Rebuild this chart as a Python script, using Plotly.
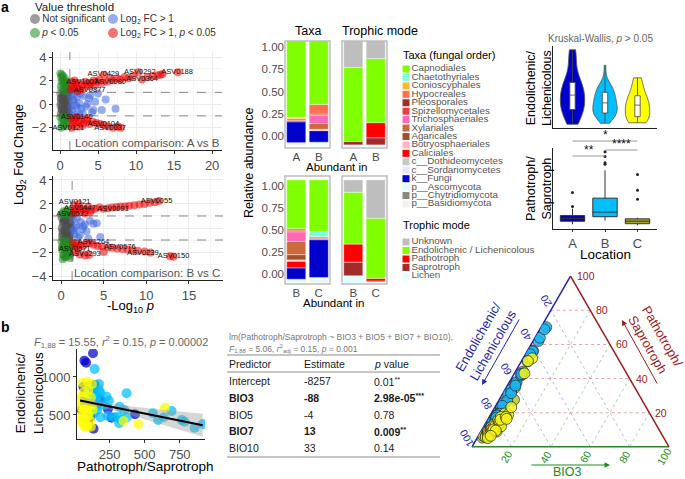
import numpy as np
import plotly.graph_objects as go

W, H = 685, 479
FONT = "Liberation Sans, Arial, Helvetica, sans-serif"
TXT = "#4D4D4D"


def fx(px):
    return px / W


def fy(py):
    return 1 - py / H


# ------------------------------------------------------------------
# (a) volcano plots
# ------------------------------------------------------------------
volcano_classes = ["Not significant", "Log<sub>2</sub> FC > 1",
                   "<i>p</i> < 0.05", "Log<sub>2</sub> FC > 1, <i>p</i> < 0.05"]
volcano_colors = ["#4D4D4D", "#4169E1", "#228B22", "#EE0000"]
p_cutoff = 0.05
fc_cutoff = 1.0

# Location A vs B
ab_ns_x = [0.05, 0.1, 0.15, 0.2, 0.3, 0.4, 0.5, 0.6, 0.7, 0.8, 0.9, 1.0, 1.1, 1.2,
           0.05, 0.15, 0.25, 0.35, 0.45, 0.55, 0.65, 0.75, 0.85, 0.95, 1.05, 1.15, 1.25,
           0.1, 0.3, 0.5, 0.7, 0.9]
ab_ns_y = [0.9, -0.8, 0.5, -0.4, 0.7, -0.9, 0.2, -0.6, 0.8, -0.2, 0.4, -0.7, 0.6, -0.3,
           -0.1, 0.1, -0.5, 0.3, -0.85, 0.65, -0.35, 0.05, -0.6, 0.85, -0.15, 0.3, -0.8,
           0.45, -0.25, 0.95, 0.0, -0.9]
ab_fc_x = [1.4, 1.6, 1.8, 2.0, 2.2, 2.5, 2.8, 3.1, 3.4, 3.8, 4.2, 4.6, 5.0, 5.5, 6.0, 7.3,
           1.5, 1.9, 2.3, 2.7, 3.0, 3.6, 4.0, 4.4, 1.7, 2.1, 2.6]
ab_fc_y = [0.8, -0.6, 0.3, -0.9, 0.6, 0.1, -0.4, 0.7, -0.2, 0.5, -0.7, 0.2, 0.9, -0.5, 0.4, -0.4,
           -0.2, 0.95, -0.3, 0.85, -0.8, 0.0, 0.75, -0.5, 0.4, -0.1, -0.95]
ab_p_x = [0.05, 0.15, 0.25, 0.35, 0.5, 0.65, 0.8, 0.95, 1.1, 1.2, 0.1, 0.3, 0.45, 0.6, 0.75, 0.9,
          1.05, 0.2, 0.4, 0.55, 0.7,
          0.05, 0.2, 0.35, 0.5, 0.65, 0.8, 0.95, 1.1, 1.2, 0.15, 0.45, 0.75]
ab_p_y = [2.6, 2.3, 2.5, 2.1, 1.8, 2.2, 1.6, 1.9, 1.4, 1.2, 1.5, 1.3, 2.0, 1.1, 1.7, 1.3,
          1.1, 1.9, 2.4, 1.5, 1.2,
          -1.1, -1.5, -1.2, -1.8, -1.3, -1.6, -1.1, -1.4, -1.2, -2.0, -1.7, -1.9]
ab_both_x = [1.4, 1.6, 1.8, 2.0, 2.2, 2.4, 2.6, 2.9, 3.3, 3.6, 4.0, 4.4, 4.8, 5.2, 5.8, 6.2,
             6.6, 7.0, 7.5, 8.0, 8.5, 9.0, 9.6, 10.3, 10.8, 11.5, 12.2, 12.8, 13.2, 13.5, 15.5,
             1.5, 1.9, 2.3, 3.0, 3.9, 4.6, 5.5,
             1.4, 1.6, 1.8, 2.0, 2.2, 2.5, 2.8, 3.1, 3.5, 3.9, 4.3, 4.8, 5.3, 5.8, 6.3, 7.0,
             7.6, 8.0, 1.6, 2.0, 2.4, 3.0, 3.6]
ab_both_y = [1.2, 1.5, 1.3, 1.7, 1.4, 1.8, 1.2, 1.6, 1.9, 1.7, 1.8, 2.0, 1.9, 2.1, 2.5, 1.9,
             2.2, 2.0, 2.2, 2.1, 2.3, 2.2, 2.4, 2.7, 2.1, 2.3, 2.4, 2.45, 2.5, 2.55, 2.7,
             1.9, 2.0, 1.1, 1.3, 1.5, 1.6, 1.8,
             -1.2, -2.0, -1.4, -1.6, -1.1, -1.5, -1.3, -1.6, -1.4, -1.7, -1.5, -1.6, -1.7, -1.8,
             -1.9, -2.0, -1.9, -2.0, -1.8, -1.2, -1.9, -1.8, -1.2]
ab_lab = ["ASV0429", "ASV0292", "ASV0188", "ASV1007", "ASV0080", "ASV0364",
          "ASV0877", "ASV0140", "ASV0104", "ASV0121", "ASV0037"]
ab_lab_x = [5.7, 10.5, 15.4, 2.9, 6.6, 10.8, 3.9, 2.2, 5.7, 1.1, 6.6]
ab_lab_y = [2.55, 2.7, 2.7, 1.85, 1.85, 2.1, 1.2, -1.1, -1.7, -2.05, -2.0]

# Location B vs C
bc_ns_x = [0.05, 0.12, 0.2, 0.28, 0.36, 0.45, 0.55, 0.65, 0.75, 0.85, 0.95, 1.05, 1.15, 1.25,
           0.08, 0.18, 0.3, 0.4, 0.5, 0.6, 0.7, 0.8, 0.9, 1.0, 1.1, 1.2,
           0.15, 0.35, 0.55, 0.75, 0.95, 1.15]
bc_ns_y = [0.85, -0.7, 0.4, -0.95, 0.6, -0.3, 0.15, -0.8, 0.7, -0.45, 0.3, -0.6, 0.9, -0.2,
           0.0, -0.5, 0.55, -0.15, 0.8, -0.9, 0.25, -0.35, 0.95, -0.75, 0.45, -0.05,
           -0.25, 0.7, -0.55, 0.1, -0.95, 0.35]
bc_fc_x = [1.4, 1.6, 1.8, 2.0, 2.3, 2.6, 3.0, 3.4, 3.8, 4.2, 4.6, 1.5, 1.9, 2.2, 2.8, 3.2, 1.7, 2.5]
bc_fc_y = [0.7, -0.5, 0.2, -0.8, 0.5, 0.15, -0.3, 0.6, 0.35, 0.4, -0.75, -0.2, 0.85, -0.6, 0.3,
           -0.9, 0.0, -0.1]
bc_p_x = [0.1, 0.3, 0.5, 0.7, 0.9, 1.1, 0.2, 0.6, 1.0,
          0.05, 0.15, 0.25, 0.35, 0.45, 0.55, 0.65, 0.75, 0.85, 0.95, 1.05, 1.15, 1.25,
          0.1, 0.3, 0.5, 0.7, 0.9, 1.1, 0.2, 0.4, 0.6, 0.8, 1.0, 0.15, 0.45]
bc_p_y = [1.1, 1.4, 1.2, 1.5, 1.05, 1.3, 1.25, 1.1, 1.45,
          -1.1, -1.5, -2.2, -1.3, -1.9, -2.4, -1.2, -1.7, -2.1, -1.4, -2.5, -1.6, -1.2,
          -1.8, -2.3, -1.05, -2.0, -1.5, -2.2, -2.6, -1.35, -1.75, -2.35, -1.9, -1.6, -2.45]
bc_both_x = [1.4, 1.6, 1.8, 2.0, 2.3, 2.6, 2.9, 3.2, 3.6, 4.0, 4.5, 5.0, 5.5, 6.0, 6.5, 7.0,
             7.5, 8.0, 8.6, 9.2, 9.8, 10.4, 11.0, 11.5, 1.5, 2.1, 2.8, 3.4,
             1.4, 1.6, 1.8, 2.0, 2.3, 2.6, 3.0, 3.4, 3.8, 4.3, 4.8, 5.0, 5.5, 6.0, 6.6, 7.2,
             7.8, 8.4, 9.0, 9.8, 10.5, 12.8, 13.2, 1.7, 2.2, 2.8, 3.3]
bc_both_y = [1.2, 1.5, 1.3, 1.7, 1.4, 1.6, 1.5, 1.8, 1.5, 1.6, 1.7, 1.6, 1.65, 1.7, 1.75, 1.8,
             1.8, 1.85, 1.9, 1.95, 2.0, 2.1, 2.15, 2.25, 1.9, 2.0, 1.2, 1.3,
             -1.2, -1.5, -1.3, -1.6, -1.4, -1.5, -1.3, -1.25, -1.4, -1.5, -1.55, -2.0, -1.6,
             -1.65, -1.7, -1.75, -1.8, -1.85, -1.9, -1.95, -2.05, -2.35, -2.4, -2.0, -2.2,
             -2.3, -2.25]
bc_lab = ["ASV0121", "ASV0447", "ASV0532", "ASV0091", "ASV0055", "ASV1264",
          "ASV0671", "ASV0293", "ASV0576", "ASV0239", "ASV0150"]
bc_lab_x = [1.6, 2.2, 1.3, 6.1, 11.2, 3.8, 1.6, 2.8, 6.9, 9.6, 13.2]
bc_lab_y = [2.15, 1.65, 1.15, 1.6, 2.2, -1.2, -1.75, -2.2, -1.6, -2.1, -2.35]

# ------------------------------------------------------------------
# (a) relative abundance bars
# ------------------------------------------------------------------
taxa = ["Capnodiales", "Chaetothyriales", "Conioscyphales", "Hypocreales", "Pleosporales",
        "Spizellomycetales", "Trichosphaeriales", "Xylariales", "Agaricales",
        "Botryosphaeriales", "Caliciales", "c__Dothideomycetes", "c__Sordariomycetes",
        "k__Fungi", "p__Ascomycota", "p__Chytridiomycota", "p__Basidiomycota"]
taxa_colors = ["#7FFF00", "#7FFFD4", "#FFB732", "#FF6F50", "#A52A2A", "#E84040", "#FF69B4",
               "#CD6A3D", "#A0522D", "#FFB6C1", "#FF0000", "#C1CDC1", "#E6E6FA", "#0000CD",
               "#E0FFFF", "#8B8878", "#F2F2F2"]
taxa_top_groups = ["A", "B"]
taxa_top_A = [0.86, 0, 0.015, 0.02, 0, 0, 0, 0, 0, 0, 0.015, 0, 0, 0.235, 0, 0, 0.025]
taxa_top_B = [0.715, 0, 0, 0.11, 0.015, 0, 0.09, 0.065, 0, 0.015, 0, 0, 0, 0.13, 0.03, 0, 0]
taxa_bot_groups = ["B", "C"]
taxa_bot_B = [0.555, 0, 0, 0.025, 0.01, 0, 0.11, 0.15, 0.06, 0.015, 0.075, 0, 0, 0.13, 0.04, 0, 0]
taxa_bot_C = [0.585, 0.06, 0, 0.015, 0, 0.01, 0, 0, 0, 0, 0.01, 0, 0, 0.43, 0.02, 0, 0.04]

trophic = ["Unknown", "Endolichenic / Lichenicolous", "Pathotroph", "Saprotroph", "Lichen"]
trophic_colors = ["#BEBEBE", "#7FFF00", "#FF0000", "#A52A2A", "#E0FFFF"]
trophic_top_A = [0.30, 0.83, 0, 0.04, 0]
trophic_top_B = [0.20, 0.72, 0.17, 0.08, 0]
trophic_bot_B = [0.14, 0.59, 0.205, 0.155, 0.08]
trophic_bot_C = [0.435, 0.685, 0.03, 0.01, 0.01]
stack_start = -0.1

# ------------------------------------------------------------------
# per-sample values (b scatter, violins, boxes, ternary)
# ------------------------------------------------------------------
locations = ["A", "B", "C"]
loc_colors = ["#0000CD", "#00BFFF", "#FFFF00"]
box_colors = ["#0000CD", "#00BFFF", "#A8A820"]
A_path = [132, 71, 83, 107, 144, 185, 238, 264, 431, 93, 161, 52, 112, 136, 76, 150, 125, 118, 64, 98]
A_endo = [1312, 1215, 1188, 882, 895, 697, 579, 465, 509, 720, 654, 566, 478, 320, 785, 741, 829,
          522, 872, 410]
B_path = [144, 175, 371, 228, 245, 161, 185, 149, 322, 354, 310, 335, 318, 373, 559, 596, 636, 692,
          764, 784, 856, 914, 161, 185, 136, 238, 281, 209, 175, 107, 95, 118, 128, 140, 105, 152,
          112, 160, 98, 133]
B_endo = [1105, 908, 785, 741, 688, 750, 793, 688, 609, 566, 478, 434, 391, 470, 522, 434, 470, 553,
          434, 412, 333, 382, 566, 470, 522, 487, 470, 632, 829, 609, 640, 700, 760, 820, 560, 600,
          850, 680, 760, 620]
C_path = [59, 93, 125, 69, 98, 52, 83, 117, 64, 93, 125, 59, 93, 47, 76, 112, 93, 117, 59, 349,
          455, 644, 130, 100, 40, 70, 55, 85, 75, 45]
C_endo = [925, 938, 908, 807, 829, 741, 697, 732, 632, 601, 632, 544, 522, 434, 443, 421, 355, 345,
          391, 421, 382, 596, 570, 490, 700, 580, 480, 360, 340, 610]
bio3_A = [33, 35, 34, 36, 32, 37, 35, 34, 38, 33, 36, 35, 34, 37, 33, 36, 35, 34, 38, 36]
bio3_B = [31, 30, 32, 33, 31, 30, 34, 32, 31, 33, 30, 32, 31, 33, 34, 30, 32, 31, 33, 30,
          32, 31, 34, 30, 33, 31, 32, 30, 34, 31, 33, 30, 32, 31, 30, 33, 32, 31, 34, 30]
bio3_C = [42, 40, 43, 41, 44, 42, 40, 43, 41, 42, 44, 40, 43, 42, 41, 40, 44, 42, 43, 41,
          40, 42, 44, 41, 43, 40, 42, 41, 43, 44]
tern_colors = ["#B8CC2A", "#1EB4F0", "#F2F21A"]

# significance brackets (pairs, label)
sig_pairs = [("A", "C", "*"), ("B", "C", "****"), ("A", "B", "**")]
sig_levels = [1.086, 0.975, 0.901]

# regression table
tbl_pred = ["Intercept", "BIO3", "BIO5", "BIO7", "BIO10"]
tbl_est = ["-8257", "-88", "-4", "13", "33"]
tbl_p = ["0.01", "2.98e-05", "0.78", "0.009", "0.14"]
tbl_star = ["**", "***", "", "**", ""]
tbl_bold = [False, True, False, True, False]

tern_ticks = [20, 40, 60, 80, 100]

# ==================================================================
fig = go.Figure()


def add_volcano(sets, lx, ly, lt, xa, ya):
    for k in [0, 2, 1, 3]:
        xs, ys = sets[k]
        fig.add_trace(go.Scatter(x=xs, y=ys, mode="markers", xaxis=xa, yaxis=ya,
                                 marker=dict(size=8, color=volcano_colors[k], opacity=0.55,
                                             line=dict(width=0)),
                                 showlegend=False, hoverinfo="skip"))
    fig.add_trace(go.Scatter(x=lx, y=ly, text=lt, mode="text", xaxis=xa, yaxis=ya,
                             textfont=dict(size=7.5, color="#111", family=FONT),
                             showlegend=False, hoverinfo="skip", cliponaxis=False))


add_volcano([(ab_ns_x, ab_ns_y), (ab_fc_x, ab_fc_y), (ab_p_x, ab_p_y), (ab_both_x, ab_both_y)],
            ab_lab_x, ab_lab_y, ab_lab, "x", "y")
add_volcano([(bc_ns_x, bc_ns_y), (bc_fc_x, bc_fc_y), (bc_p_x, bc_p_y), (bc_both_x, bc_both_y)],
            bc_lab_x, bc_lab_y, bc_lab, "x2", "y2")

# value threshold legend (2 x 2)
fig.add_trace(go.Scatter(
    x=[2 + 78 * (i % 2) for i in range(len(volcano_classes))],
    y=[i // 2 for i in range(len(volcano_classes))],
    mode="markers+text", text=volcano_classes, textposition="middle right",
    marker=dict(size=10, color=volcano_colors, opacity=0.55),
    textfont=dict(size=10, color="#333", family=FONT),
    xaxis="x12", yaxis="y12", showlegend=False, hoverinfo="skip", cliponaxis=False))


def add_stack(groups, vals_per_group, names, colors, xa, ya):
    cum = [stack_start] * len(groups)
    for i in reversed(range(len(names))):
        ys = [v[i] for v in vals_per_group]
        if sum(ys) > 0:
            fig.add_trace(go.Bar(x=groups, y=[y if y > 0 else None for y in ys], base=list(cum),
                                 width=0.85, marker=dict(color=colors[i],
                                                         line=dict(color="white", width=0.4)),
                                 xaxis=xa, yaxis=ya, showlegend=False, hoverinfo="skip"))
        cum = [c + y for c, y in zip(cum, ys)]


add_stack(taxa_top_groups, [taxa_top_A, taxa_top_B], taxa, taxa_colors, "x3", "y3")
add_stack(taxa_top_groups, [trophic_top_A, trophic_top_B], trophic, trophic_colors, "x4", "y4")
add_stack(taxa_bot_groups, [taxa_bot_B, taxa_bot_C], taxa, taxa_colors, "x5", "y5")
add_stack(taxa_bot_groups, [trophic_bot_B, trophic_bot_C], trophic, trophic_colors, "x6", "y6")

# taxa / trophic legends
fig.add_trace(go.Scatter(x=[4] * len(taxa), y=list(range(len(taxa))), mode="markers+text",
                         text=taxa, textposition="middle right",
                         marker=dict(symbol="square", size=7, color=taxa_colors),
                         textfont=dict(size=9.8, color="#555", family=FONT),
                         xaxis="x7", yaxis="y7", showlegend=False, hoverinfo="skip",
                         cliponaxis=False))
fig.add_trace(go.Scatter(x=[4] * len(trophic), y=list(range(len(trophic))), mode="markers+text",
                         text=trophic, textposition="middle right",
                         marker=dict(symbol="square", size=7, color=trophic_colors),
                         textfont=dict(size=9.8, color="#555", family=FONT),
                         xaxis="x8", yaxis="y8", showlegend=False, hoverinfo="skip",
                         cliponaxis=False))

# violins and boxes
path_by_loc = [A_path, B_path, C_path]
endo_by_loc = [A_endo, B_endo, C_endo]
bio3_by_loc = [bio3_A, bio3_B, bio3_C]
for loc, col, bcol, pth, endo in zip(locations, loc_colors, box_colors, path_by_loc, endo_by_loc):
    fig.add_trace(go.Violin(x=[loc] * len(endo), y=endo, xaxis="x9", yaxis="y9",
                            fillcolor=col, line=dict(color="#555", width=0.8), opacity=1,
                            width=0.75, spanmode="hard", points=False, scalemode="width",
                            box=dict(visible=True, width=0.22, fillcolor="white",
                                     line=dict(color="#444", width=0.8)),
                            meanline=dict(visible=False), showlegend=False, hoverinfo="skip"))
    fig.add_trace(go.Box(x=[loc] * len(pth), y=pth, xaxis="x10", yaxis="y10",
                         fillcolor=bcol, line=dict(color="#333", width=1), width=0.75,
                         whiskerwidth=0, boxpoints="outliers",
                         marker=dict(size=3, color="#222"), showlegend=False, hoverinfo="skip"))

all_endo = A_endo + B_endo + C_endo
all_path = A_path + B_path + C_path
e_lo, e_hi = min(all_endo), max(all_endo)
e_pad = 0.05 * (e_hi - e_lo)
p_lo, p_hi = min(all_path), max(all_path)
p_pad = 0.05 * (p_hi - p_lo)

# scatter b
for loc, col, pth, endo in zip(locations, loc_colors, path_by_loc, endo_by_loc):
    fig.add_trace(go.Scatter(x=pth, y=endo, mode="markers", xaxis="x11", yaxis="y11",
                             marker=dict(size=10, color=col, opacity=0.72, line=dict(width=0)),
                             showlegend=False, hoverinfo="skip"))
xv = np.array(all_path, float)
yv = np.array(all_endo, float)
n = len(xv)
slope, intercept = np.polyfit(xv, yv, 1)
xs = np.linspace(xv.min(), xv.max(), 80)
yhat = intercept + slope * xs
resid = yv - (intercept + slope * xv)
s_err = np.sqrt(np.sum(resid ** 2) / (n - 2))
se = s_err * np.sqrt(1 / n + (xs - xv.mean()) ** 2 / np.sum((xv - xv.mean()) ** 2))
tval = 1.987
fig.add_trace(go.Scatter(x=np.concatenate([xs, xs[::-1]]),
                         y=np.concatenate([yhat + tval * se, (yhat - tval * se)[::-1]]),
                         fill="toself", fillcolor="rgba(153,153,153,0.4)", line=dict(width=0),
                         mode="lines", xaxis="x11", yaxis="y11", showlegend=False,
                         hoverinfo="skip"))
fig.add_trace(go.Scatter(x=xs, y=yhat, mode="lines", line=dict(color="black", width=2),
                         xaxis="x11", yaxis="y11", showlegend=False, hoverinfo="skip"))

# ternary
for loc, col, pth, endo, b3 in zip(locations, tern_colors, path_by_loc, endo_by_loc, bio3_by_loc):
    fig.add_trace(go.Scatterternary(a=pth, b=endo, c=b3, mode="markers", subplot="ternary",
                                    marker=dict(size=11, color=col, opacity=0.85,
                                                line=dict(color="#222", width=0.8)),
                                    showlegend=False, hoverinfo="skip"))

# ==================================================================
# layout
# ==================================================================
tick13 = dict(family=FONT, size=13, color=TXT)


def volc_x(dom, rng, tv):
    return dict(domain=[fx(dom[0]), fx(dom[1])], range=rng, tickvals=tv, ticks="outside",
                ticklen=3, tickcolor="#333", showline=True, linecolor="#222", linewidth=1,
                showgrid=True, gridcolor="#EBEBEB", gridwidth=0.7, zeroline=False,
                minor=dict(dtick=2.5, tick0=0, showgrid=True, gridcolor="#F4F4F4", gridwidth=0.5),
                tickfont=tick13)


def volc_y(dom, rng, tv):
    return dict(domain=[fy(dom[1]), fy(dom[0])], range=rng, tickvals=tv, ticks="outside",
                ticklen=3, tickcolor="#333", showline=True, linecolor="#222", linewidth=1,
                showgrid=True, gridcolor="#EBEBEB", gridwidth=0.7, zeroline=False,
                minor=dict(dtick=1, tick0=0, showgrid=True, gridcolor="#F4F4F4", gridwidth=0.5),
                tickfont=tick13)


def bar_x(dom):
    return dict(domain=[fx(dom[0]), fx(dom[1])], type="category", range=[-0.5, 1.5],
                showline=False, showgrid=False, zeroline=False, ticks="",
                tickfont=dict(family=FONT, size=11.5, color=TXT))


def bar_y(dom, rng, show):
    return dict(domain=[fy(dom[1]), fy(dom[0])], range=rng, tickvals=[0, 0.25, 0.5, 0.75, 1],
                ticktext=["0.00", "0.25", "0.50", "0.75", "1.00"], showticklabels=show,
                showgrid=False, zeroline=False, showline=False, ticks="",
                tickfont=dict(family=FONT, size=11.5, color=TXT))


hidden = dict(visible=False, showgrid=False, zeroline=False)

layout = dict(
    width=W, height=H, autosize=False, margin=dict(l=0, r=0, t=0, b=0),
    paper_bgcolor="white", plot_bgcolor="white", template="none", showlegend=False,
    barmode="overlay", violinmode="overlay", boxmode="overlay",
    font=dict(family=FONT),
    xaxis=dict(volc_x((53, 222), [-0.92, 21.3], [0, 5, 10, 15, 20]), anchor="y"),
    yaxis=dict(volc_y((52, 150), [-3.9, 4.43], [-2, 0, 2, 4]), anchor="x"),
    xaxis2=dict(volc_x((53, 223), [-0.94, 19.0], [0, 5, 10, 15]), anchor="y2"),
    yaxis2=dict(volc_y((176, 280), [-4.33, 4.33], [-4, -2, 0, 2, 4]), anchor="x2"),
    xaxis3=dict(bar_x((285, 330)), anchor="y3"),
    yaxis3=dict(bar_y((41, 148), [-0.135, 1.067], True), anchor="x3"),
    xaxis4=dict(bar_x((342, 387)), anchor="y4"),
    yaxis4=dict(bar_y((41, 148), [-0.135, 1.067], False), anchor="x4"),
    xaxis5=dict(bar_x((285, 330)), anchor="y5"),
    yaxis5=dict(bar_y((176, 284), [-0.114, 1.114], True), anchor="x5"),
    xaxis6=dict(bar_x((342, 387)), anchor="y6"),
    yaxis6=dict(bar_y((176, 284), [-0.114, 1.114], False), anchor="x6"),
    xaxis7=dict(hidden, domain=[fx(402), fx(520)], range=[0, 118], anchor="y7"),
    yaxis7=dict(hidden, domain=[fy(208.2), fy(64.8)], range=[len(taxa) - 0.5, -0.5], anchor="x7"),
    xaxis8=dict(hidden, domain=[fx(402), fx(520)], range=[0, 118], anchor="y8"),
    yaxis8=dict(hidden, domain=[fy(280.25), fy(237.75)], range=[len(trophic) - 0.5, -0.5],
                anchor="x8"),
    xaxis12=dict(hidden, domain=[fx(33), fx(243)], range=[0, 210], anchor="y12"),
    yaxis12=dict(hidden, domain=[fy(40), fy(12)], range=[1.5, -0.5], anchor="x12"),
    xaxis9=dict(domain=[fx(553), fx(657)], type="category", categoryorder="array",
                categoryarray=locations, range=[-0.6, 2.6], showline=True, linecolor="#222",
                linewidth=1, showticklabels=False, ticks="", showgrid=False, zeroline=False,
                anchor="y9"),
    yaxis9=dict(domain=[fy(128), fy(46)], range=[e_lo - e_pad, e_hi + e_pad], showline=True,
                linecolor="#222", linewidth=1, showticklabels=False, ticks="", showgrid=False,
                zeroline=False, anchor="x9"),
    xaxis10=dict(domain=[fx(553), fx(657)], type="category", categoryorder="array",
                 categoryarray=locations, range=[-0.6, 2.6], showline=True, linecolor="#222",
                 linewidth=1, ticks="outside", ticklen=2, tickcolor="#333", showgrid=False,
                 zeroline=False, tickfont=dict(family=FONT, size=13, color=TXT), anchor="y10"),
    yaxis10=dict(domain=[fy(229), fy(148)], range=[p_lo - p_pad, p_hi + p_pad], showline=True,
                 linecolor="#222", linewidth=1, showticklabels=False, ticks="", showgrid=False,
                 zeroline=False, anchor="x10"),
    xaxis11=dict(domain=[fx(77), fx(205)], range=[18, 930], tickvals=[250, 500, 750],
                 showline=True, linecolor="#222", linewidth=1, ticks="outside", ticklen=3,
                 tickcolor="#333", showgrid=False, zeroline=False,
                 tickfont=dict(family=FONT, size=13, color=TXT), anchor="y11"),
    yaxis11=dict(domain=[fy(439), fy(349)], range=[184, 1368], tickvals=[500, 1000],
                 showline=True, linecolor="#222", linewidth=1, ticks="outside", ticklen=3,
                 tickcolor="#333", showgrid=False, zeroline=False,
                 tickfont=dict(family=FONT, size=13, color=TXT), anchor="x11"),
)

TRI_L, TRI_R, TRI_T, TRI_B = 472, 669, 276, 447
BLUE, DRED, GREEN = "#2323A8", "#9B1C1C", "#228B22"


def tern_axis(linecol, gridcol):
    return dict(showticklabels=False, ticks="", linecolor=linecol, linewidth=1.5, dtick=20,
                gridcolor=gridcol, griddash="dot", gridwidth=0.7, layer="below traces",
                title=dict(text=" "))


layout["ternary"] = dict(
    domain=dict(x=[fx(TRI_L), fx(TRI_R)], y=[fy(TRI_B), fy(TRI_T)]), sum=100,
    bgcolor="rgba(0,0,0,0)",
    aaxis=tern_axis(BLUE, "rgba(210,90,90,0.55)"),
    baxis=tern_axis(GREEN, "rgba(110,110,220,0.5)"),
    caxis=tern_axis(DRED, "rgba(100,180,100,0.5)"),
)

fig.update_layout(**layout)


# ---------------- annotations
def ann(px, py, text, size=12, color="black", xa="center", ya="middle", angle=0):
    return dict(x=fx(px), y=fy(py), xref="paper", yref="paper", text=text, showarrow=False,
                font=dict(family=FONT, size=size, color=color), xanchor=xa, yanchor=ya,
                textangle=angle)


anns = [
    ann(5, 7, "<b>a</b>", 14),
    ann(5, 327, "<b>b</b>", 14),
    ann(33, 7, "Value threshold", 11.5, "#222", xa="left"),
    ann(20, 155, "Log<sub>2</sub> Fold Change", 12.5, angle=-90),
    ann(130, 306, "-Log<sub>10</sub> <i>p</i>", 13),
    ann(222, 143, "Location comparison: A vs B", 11.5, "#555", xa="right"),
    ann(222, 273, "Location comparison: B vs C", 11.5, "#555", xa="right"),
    ann(307.5, 31, "Taxa", 12.5),
    ann(340, 31, "Trophic mode", 12.5, xa="left"),
    ann(249, 163, "Relative abundance", 12.5, angle=-90),
    ann(336, 167, "Abundant in", 11.5),
    ann(333, 303, "Abundant in", 11.5),
    ann(401, 55, "Taxa (fungal order)", 11, xa="left"),
    ann(401, 225, "Trophic mode", 11, xa="left"),
    ann(600, 38, "Kruskal-Wallis, <i>p</i> > 0.05", 10, "#666"),
    ann(539, 88, "Endolichenic/<br>Lichenicolous", 12.5, angle=-90),
    ann(539, 189, "Pathotroph/<br>Saprotroph", 12.5, angle=-90),
    ann(605, 255, "Location", 13.5),
    ann(121, 342, "<i>F</i><sub>1,88</sub> = 15.55, <i>r</i><sup>2</sup> = 0.15, "
                  "<i>p</i> = 0.00002", 11, "#666"),
    ann(29, 393, "Endolichenic/<br>Lichenicolous", 13.5, angle=-90),
    ann(145, 466, "Pathotroph/Saprotroph", 13.5),
]

# significance brackets
shapes = []
for (g1, g2, lab), lev in zip(sig_pairs, sig_levels):
    i1, i2 = locations.index(g1), locations.index(g2)
    shapes.append(dict(type="line", xref="x10", yref="y10 domain", x0=i1, x1=i2, y0=lev, y1=lev,
                       line=dict(color="#999", width=1)))
    anns.append(dict(x=(i1 + i2) / 2, y=lev, xref="x10", yref="y10 domain", text=lab,
                     showarrow=False, font=dict(family=FONT, size=12, color="#111"),
                     xanchor="center", yanchor="bottom", yshift=-3))

# threshold lines on volcano plots
for xa, ya in [("x", "y"), ("x2", "y2")]:
    shapes.append(dict(type="line", xref=xa, yref=ya + " domain", x0=-np.log10(p_cutoff),
                       x1=-np.log10(p_cutoff), y0=0, y1=1,
                       line=dict(color="#555", width=0.7, dash="dash")))
    for yy in (fc_cutoff, -fc_cutoff):
        shapes.append(dict(type="line", xref=xa + " domain", yref=ya, x0=0, x1=1, y0=yy, y1=yy,
                           line=dict(color="#555", width=0.7, dash="dash")))

# bar panel borders
for k in (3, 4, 5, 6):
    shapes.append(dict(type="rect", xref=f"x{k} domain", yref=f"y{k} domain", x0=0, x1=1,
                       y0=0, y1=1, line=dict(color="#BDBDBD", width=1.5),
                       fillcolor="rgba(0,0,0,0)", layer="above"))

# regression table
TBL_X = [227, 302, 372]
TBL_R = 440
anns.append(ann(TBL_X[0], 337, "lm(Pathotroph/Saprotroph ~ BIO3 + BIO5 + BIO7 + BIO10),",
                8.5, "#777", xa="left"))
anns.append(ann(TBL_X[0], 348.5, "<i>F</i><sub>1,88</sub> = 5.06, <i>r</i><sup>2</sup>"
                                 "<sub>adj</sub> = 0.15, <i>p</i> = 0.001", 8.5, "#777", xa="left"))
for hx, htxt in zip(TBL_X, ["Predictor", "Estimate", "<i>p</i> value"]):
    anns.append(ann(hx, 364, htxt, 10.5, "#1A1A1A", xa="left"))
for r, (pr, es, pv, st, bd) in enumerate(zip(tbl_pred, tbl_est, tbl_p, tbl_star, tbl_bold)):
    yy = 381 + 16.8 * r
    cells = [pr, es, pv + (f"<sup>{st}</sup>" if st else "")]
    for cx, ct in zip(TBL_X, cells):
        anns.append(ann(cx, yy, f"<b>{ct}</b>" if bd else ct, 10.5, "#1A1A1A", xa="left"))
for ry in (355, 372, 457):
    shapes.append(dict(type="line", xref="paper", yref="paper", x0=fx(TBL_X[0]), x1=fx(TBL_R),
                       y0=fy(ry), y1=fy(ry), line=dict(color="#8C8C8C", width=1)))

# ternary tick labels and titles
tv_top = ((TRI_L + TRI_R) / 2, TRI_T)
tv_bl = (TRI_L, TRI_B)
tv_br = (TRI_R, TRI_B)
for v in tern_ticks:
    f = v / 100
    # Endolichenic (left edge)
    lx = tv_top[0] + f * (tv_bl[0] - tv_top[0])
    ly = tv_top[1] + f * (tv_bl[1] - tv_top[1])
    anns.append(ann(lx - 0.5 * 11, ly - 0.866 * 11, str(v), 10.5, BLUE, angle=-120))
    # Pathotroph/Saprotroph (right edge)
    rx = tv_br[0] + f * (tv_top[0] - tv_br[0])
    ry = tv_br[1] + f * (tv_top[1] - tv_br[1])
    anns.append(ann(rx + 4, ry, str(v), 10.5, DRED, xa="left"))
    # BIO3 (bottom edge)
    bx = tv_bl[0] + f * (tv_br[0] - tv_bl[0])
    anns.append(ann(bx - 0.5 * 11, TRI_B + 0.866 * 11, str(v), 10.5, GREEN, angle=-60))

mid_l = ((tv_top[0] + tv_bl[0]) / 2, (tv_top[1] + tv_bl[1]) / 2)
mid_r = ((tv_top[0] + tv_br[0]) / 2, (tv_top[1] + tv_br[1]) / 2)
anns.append(ann(mid_l[0] - 0.866 * 41, mid_l[1] - 0.5 * 41, "Endolichenic/<br>Lichenicolous",
                13, BLUE, angle=-60))
anns.append(ann(mid_r[0] + 0.866 * 41, mid_r[1] - 0.5 * 41, "Pathotroph/<br>Saprotroph",
                13, DRED, angle=60))
anns.append(ann((TRI_L + TRI_R) / 2 - 3, TRI_B + 25, "BIO3", 12.5, GREEN))


def arrow(hx, hy, tx, ty, color):
    return dict(x=fx(hx), y=fy(hy), xref="paper", yref="paper", text="", showarrow=True,
                ax=tx - hx, ay=ty - hy, arrowhead=2, arrowsize=1.1, arrowwidth=1,
                arrowcolor=color)


anns.append(arrow(482, 385, 520, 318, BLUE))
anns.append(arrow(622, 320, 658, 385, DRED))
anns.append(arrow(610, 465, 530, 465, GREEN))

fig.update_layout(annotations=anns, shapes=shapes)
fig.write_html("out.html", config={"displayModeBar": False},
               post_script="document.body.style.margin='0px';"
                           "document.body.style.padding='0px';"
                           "document.body.style.overflow='hidden';")
